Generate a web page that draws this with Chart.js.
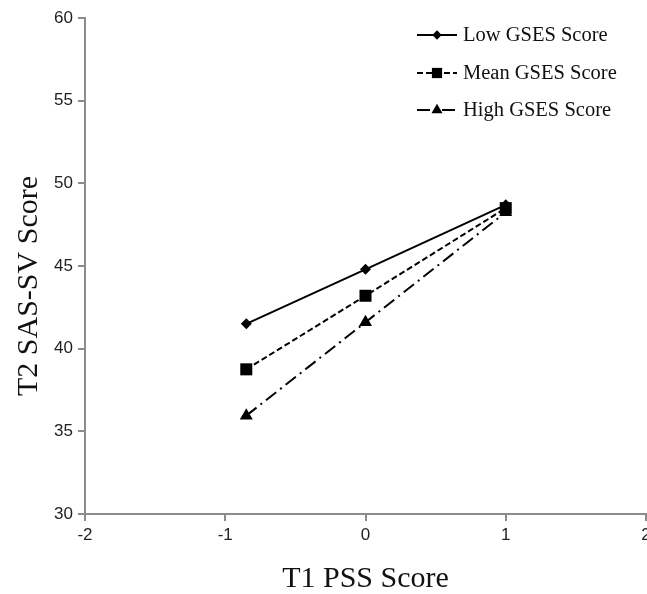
<!DOCTYPE html>
<html><head><meta charset="utf-8">
<script src="https://cdn.jsdelivr.net/npm/chart.js@4/dist/chart.umd.min.js"></script>
<style>html,body{margin:0;padding:0;background:#fff;} #wrap{width:647px;height:594px;position:relative;}</style>
</head><body><div id="wrap"><canvas id="c" width="647" height="594"></canvas></div>
<script>
const xValues = [-0.85, 0, 1];
const seriesNames = ['Low GSES Score', 'Mean GSES Score', 'High GSES Score'];
const lowValues = [41.5, 44.8, 48.7];
const meanValues = [38.75, 43.2, 48.5];
const highValues = [35.95, 41.6, 48.25];
const xTicks = [-2, -1, 0, 1, 2];
const yTicks = [30, 35, 40, 45, 50, 55, 60];
const xTitle = 'T1 PSS Score';
const yTitle = 'T2 SAS-SV Score';

const pts = vals => xValues.map((x, i) => ({x: x, y: vals[i]}));
const axisGray = '#8c8c8c';
const tickFont = {family: '"Liberation Sans", Arial, sans-serif', size: 17};

const styles = [
  {dash: [], pointStyle: 'rectRot', r: 5.5},
  {dash: [6, 3], pointStyle: 'rect', r: 8.5},
  {dash: [13, 5, 2, 5], pointStyle: 'triangle', r: 7.5}
];
const seriesVals = [lowValues, meanValues, highValues];

const datasets = seriesNames.map((name, i) => ({
  label: name,
  data: pts(seriesVals[i]),
  borderColor: '#000',
  backgroundColor: '#000',
  borderWidth: 2,
  borderDash: styles[i].dash,
  pointStyle: styles[i].pointStyle,
  pointRadius: styles[i].r,
  pointHoverRadius: styles[i].r,
  pointBorderWidth: 0,
  pointBackgroundColor: '#000',
  tension: 0,
  fill: false
}));

function drawMarker(ctx, style, x, y, r) {
  ctx.beginPath();
  if (style === 'rectRot') {
    ctx.moveTo(x, y - r); ctx.lineTo(x + r, y); ctx.lineTo(x, y + r); ctx.lineTo(x - r, y);
  } else if (style === 'rect') {
    const s = Math.SQRT1_2 * r;
    ctx.rect(x - s, y - s, 2 * s, 2 * s);
  } else {
    let a = 0;
    ctx.moveTo(x + Math.sin(a) * r, y - Math.cos(a) * r);
    a += 2 * Math.PI / 3;
    ctx.lineTo(x + Math.sin(a) * r, y - Math.cos(a) * r);
    a += 2 * Math.PI / 3;
    ctx.lineTo(x + Math.sin(a) * r, y - Math.cos(a) * r);
  }
  ctx.closePath();
  ctx.fill();
}

const customDraw = {
  id: 'customDraw',
  afterDraw(chart) {
    const ctx = chart.ctx;
    ctx.save();
    // legend
    const rowsY = [35, 73, 110];
    chart.data.datasets.forEach((ds, i) => {
      const y = rowsY[i];
      ctx.strokeStyle = '#000';
      ctx.lineWidth = 2;
      ctx.setLineDash(ds.borderDash);
      ctx.beginPath();
      ctx.moveTo(417, y); ctx.lineTo(457, y);
      ctx.stroke();
      ctx.setLineDash([]);
      ctx.fillStyle = '#000';
      drawMarker(ctx, ds.pointStyle, 437, y, ds.pointRadius * 0.85);
      ctx.font = '20.5px "Liberation Serif", "Times New Roman", serif';
      ctx.textAlign = 'left';
      ctx.textBaseline = 'middle';
      ctx.fillStyle = '#111';
      ctx.fillText(ds.label, 463, y + 1);
    });
    // y title
    ctx.translate(29, 286);
    ctx.rotate(-Math.PI / 2);
    ctx.font = '30px "Liberation Serif", "Times New Roman", serif';
    ctx.textAlign = 'center';
    ctx.textBaseline = 'middle';
    ctx.fillStyle = '#111';
    ctx.fillText(yTitle, 0, 0);
    ctx.restore();
  }
};

new Chart(document.getElementById('c'), {
  type: 'line',
  data: {datasets: datasets},
  options: {
    responsive: false,
    animation: false,
    events: [],
    layout: {autoPadding: false, padding: {left: 0, right: 1, top: 18, bottom: 0}},
    plugins: {legend: {display: false}, tooltip: {enabled: false}},
    scales: {
      x: {
        type: 'linear', min: xTicks[0], max: xTicks[xTicks.length - 1],
        afterBuildTicks: s => { s.ticks = xTicks.map(v => ({value: v})); },
        ticks: {font: tickFont, color: '#222', padding: 4, maxRotation: 0, autoSkip: false},
        grid: {drawOnChartArea: false, drawTicks: true, tickLength: 7, color: axisGray, lineWidth: 2},
        border: {color: axisGray, width: 2},
        title: {display: true, text: xTitle, color: '#111',
                font: {family: '"Liberation Serif", "Times New Roman", serif', size: 30, lineHeight: 1.0},
                padding: {top: 0, bottom: 0}},
        afterFit: s => { s.height = 80; s.paddingLeft = 0; s.paddingRight = 0; }
      },
      y: {
        type: 'linear', min: yTicks[0], max: yTicks[yTicks.length - 1],
        afterBuildTicks: s => { s.ticks = yTicks.map(v => ({value: v})); },
        ticks: {font: tickFont, color: '#222', padding: 5},
        grid: {drawOnChartArea: false, drawTicks: true, tickLength: 7, color: axisGray, lineWidth: 2},
        border: {color: axisGray, width: 2},
        afterFit: s => { s.width = 85; s.paddingTop = 0; s.paddingBottom = 0; }
      }
    }
  },
  plugins: [customDraw]
});
</script>
</body></html>
